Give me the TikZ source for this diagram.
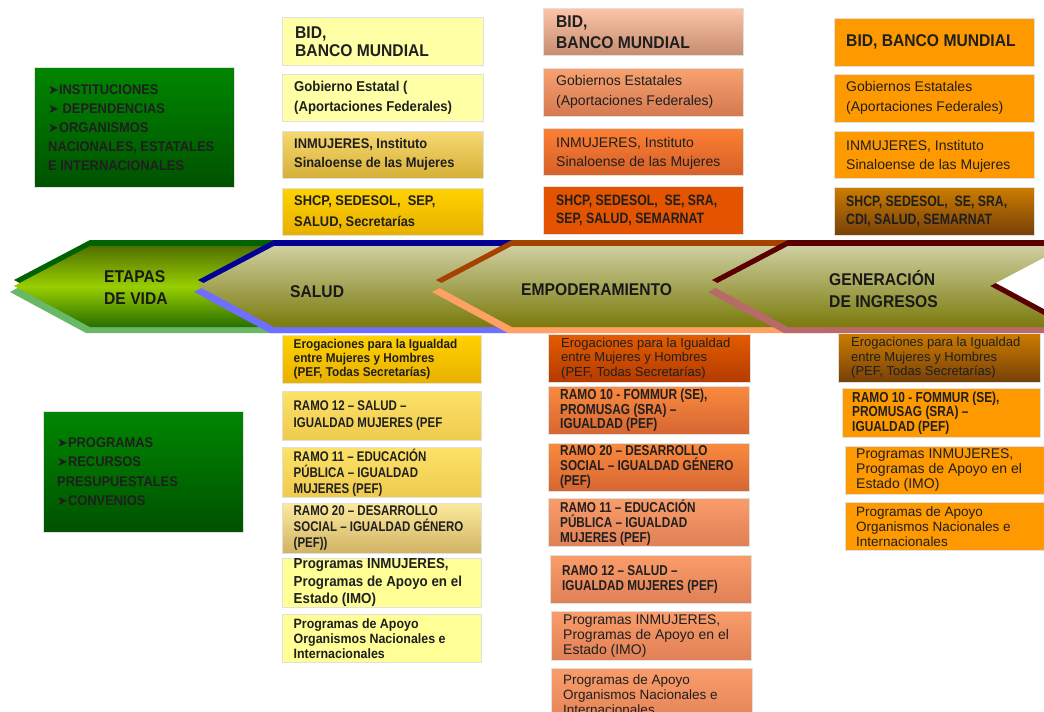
\documentclass[tikz,border=0pt]{standalone}
\usepackage{fontspec}
\setmainfont{Liberation Sans}
\newfontfamily\hdr[FakeStretch=0.92]{Liberation Sans}
\newfontfamily\cnd[FakeStretch=0.82]{Liberation Sans}
\newfontfamily\dvs{DejaVu Sans}
\definecolor{yl}{RGB}{255,255,165}
\definecolor{ylp}{RGB}{255,255,150}
\definecolor{gdt}{RGB}{246,216,112}
\definecolor{gdb}{RGB}{214,176,56}
\definecolor{gyt}{RGB}{255,210,0}
\definecolor{gyb}{RGB}{232,176,0}
\definecolor{rmt}{RGB}{252,226,104}
\definecolor{rmb}{RGB}{238,202,78}
\definecolor{tnt}{RGB}{252,234,156}
\definecolor{tnb}{RGB}{208,178,100}
\definecolor{pkt}{RGB}{252,196,168}
\definecolor{pkb}{RGB}{198,140,112}
\definecolor{o1t}{RGB}{248,162,112}
\definecolor{o1b}{RGB}{212,120,80}
\definecolor{o2t}{RGB}{252,128,52}
\definecolor{o2b}{RGB}{214,96,40}
\definecolor{o3}{RGB}{228,84,0}
\definecolor{o4t}{RGB}{228,92,0}
\definecolor{o4b}{RGB}{180,58,0}
\definecolor{o5t}{RGB}{250,138,62}
\definecolor{o5b}{RGB}{214,102,50}
\definecolor{o6t}{RGB}{250,156,106}
\definecolor{o6b}{RGB}{224,128,86}
\definecolor{orn}{RGB}{255,153,0}
\definecolor{brt}{RGB}{204,124,0}
\definecolor{brb}{RGB}{118,64,8}
\definecolor{grt}{RGB}{0,134,0}
\definecolor{grb}{RGB}{0,82,0}
\definecolor{olt}{RGB}{206,206,160}
\definecolor{olb}{RGB}{122,122,12}
\definecolor{gdk}{RGB}{0,98,0}
\definecolor{glt}{RGB}{104,184,104}
\definecolor{bdk}{RGB}{0,0,150}
\definecolor{blt}{RGB}{110,110,255}
\definecolor{edk}{RGB}{165,66,0}
\definecolor{elt}{RGB}{255,160,100}
\definecolor{rdk}{RGB}{90,0,0}
\definecolor{rlt}{RGB}{185,105,105}
% #1 name, #2 x, #3 y, #4 w, #5 h, #6 fill options, #7 text indent, #8 font, #9 text
\newcommand\txbox[9]{%
  \node[bx, minimum width=#4pt, minimum height=#5pt, #6] (#1) at (#2,#3) {};
  \node[tx, font={#8}] (#1-t) at ([xshift=#7pt]#1.west) {#9};}
\newcommand\arr{{\dvs\mdseries\fontsize{13}{19}\selectfont ➤}}
\begin{document}
\begin{tikzpicture}[x=1pt,y=-1pt,
  bx/.style={anchor=north west, inner sep=0pt, draw=black!12, line width=0.6pt},
  tx/.style={anchor=west, inner sep=0pt, align=left, text=black!88},
  chevtxt/.style={anchor=west, inner sep=0pt, align=left, text=black!90,
    font=\hdr\bfseries\fontsize{17}{22}\selectfont}]
\useasboundingbox (0,0) rectangle (1044,712);
\clip (0,0) rectangle (1044,712);
\fill[white] (0,0) rectangle (1044,712);

% ---------- chevron band ----------
% green
\fill[gdk, shift={(0,-6)}] (14,286) -- (90,246) -- (330,246) -- (330,327) -- (90,327) -- cycle;
\fill[glt, shift={(-4,6)}] (14,286) -- (90,246) -- (330,246) -- (330,327) -- (90,327) -- cycle;
\shade[top color={rgb,255:red,80;green,112;blue,0}, bottom color={rgb,255:red,40;green,110;blue,0}, middle color={rgb,255:red,152;green,206;blue,0}]
  (14,286) -- (90,246) -- (330,246) -- (330,327) -- (90,327) -- cycle;
% salud
\fill[bdk, shift={(0,-6)}] (198,286) -- (274,246) -- (560,246) -- (560,327) -- (274,327) -- cycle;
\fill[blt, shift={(-4,6)}] (198,286) -- (274,246) -- (560,246) -- (560,327) -- (274,327) -- cycle;
\shade[top color=olt, bottom color=olb] (198,286) -- (274,246) -- (560,246) -- (560,327) -- (274,327) -- cycle;
% empoderamiento
\fill[edk, shift={(0,-6)}] (436,286) -- (512,246) -- (830,246) -- (830,327) -- (512,327) -- cycle;
\fill[elt, shift={(-4,6)}] (436,286) -- (512,246) -- (830,246) -- (830,327) -- (512,327) -- cycle;
\shade[top color=olt, bottom color=olb] (436,286) -- (512,246) -- (830,246) -- (830,327) -- (512,327) -- cycle;
% generacion
\fill[rdk, shift={(0,-6)}] (712,286) -- (788,246) -- (1066,246) -- (990,286) -- (1066,327) -- (788,327) -- cycle;
\fill[rlt, shift={(-4,6)}] (712,286) -- (788,246) -- (994,246) -- (994,286) -- (1070,327) -- (788,327) -- cycle;
\shade[top color=olt, bottom color=olb] (712,286) -- (788,246) -- (1066,246) -- (990,286) -- (1066,327) -- (788,327) -- cycle;

\node[chevtxt] (etapas) at (104,288) {ETAPAS\\DE VIDA};
\node[chevtxt] (salud) at (290,292) {SALUD};
\node[chevtxt] (empo) at (521,290) {EMPODERAMIENTO};
\node[chevtxt] (gen) at (829,289) {GENERACIÓN\\DE INGRESOS};

% ---------- green boxes ----------
\txbox{inst}{34}{67}{200}{120}{top color=grt, bottom color=grb}{14}{\hdr\bfseries\fontsize{14}{19}\selectfont\color{black}}
  {\arr INSTITUCIONES\\\arr\ DEPENDENCIAS\\\arr ORGANISMOS\\NACIONALES, ESTATALES\\E INTERNACIONALES}
\txbox{prog}{43}{411}{200}{121}{top color=grt, bottom color=grb}{14}{\hdr\bfseries\fontsize{14}{19.5}\selectfont\color{black}}
  {\arr PROGRAMAS\\\arr RECURSOS\\PRESUPUESTALES\\\arr CONVENIOS}

% ---------- column 1 ----------
\txbox{a1}{282}{17}{201}{48}{fill=yl}{13}{\hdr\bfseries\fontsize{17}{18}\selectfont}{BID,\\BANCO MUNDIAL}
\txbox{a2}{282}{74}{201}{47}{fill=yl}{12}{\hdr\bfseries\fontsize{14.3}{20}\selectfont}{Gobierno Estatal (\\(Aportaciones Federales)}
\txbox{a3}{282}{131}{201}{47}{top color=gdt, bottom color=gdb}{12}{\hdr\bfseries\fontsize{14}{19}\selectfont}{INMUJERES, Instituto\\Sinaloense de las Mujeres}
\txbox{a4}{282}{188}{201}{47}{top color=gyt, bottom color=gyb}{12}{\hdr\bfseries\fontsize{14}{21}\selectfont}{SHCP, SEDESOL,\ \ SEP,\\SALUD, Secretarías}

\txbox{b1}{282}{335}{199}{48}{top color=gyt, bottom color=gyb}{11.5}{\hdr\bfseries\fontsize{12.8}{14}\selectfont}{Erogaciones para la Igualdad\\entre Mujeres y Hombres\\(PEF, Todas Secretarías)}
\txbox{b2}{282}{391}{199}{49}{top color=rmt, bottom color=rmb}{11.5}{\cnd\bfseries\fontsize{14}{17}\selectfont}{RAMO 12 – SALUD –\\IGUALDAD MUJERES (PEF}
\txbox{b3}{282}{447}{199}{50}{top color=rmt, bottom color=rmb}{11.5}{\cnd\bfseries\fontsize{14}{16}\selectfont}{RAMO 11 – EDUCACIÓN\\PÚBLICA – IGUALDAD\\MUJERES (PEF)}
\txbox{b4}{282}{503}{199}{50}{top color=tnt, bottom color=tnb}{11.5}{\cnd\bfseries\fontsize{14}{16}\selectfont}{RAMO 20 – DESARROLLO\\SOCIAL – IGUALDAD GÉNERO\\(PEF))}
\txbox{b5}{282}{558}{199}{49}{fill=ylp}{11.5}{\hdr\bfseries\fontsize{14.5}{17.5}\selectfont}{Programas INMUJERES,\\Programas de Apoyo en el\\Estado (IMO)}
\txbox{b6}{282}{614}{199}{48}{fill=ylp}{11.5}{\hdr\bfseries\fontsize{13.5}{15}\selectfont}{Programas de Apoyo\\Organismos Nacionales e\\Internacionales}

% ---------- column 2 ----------
\txbox{c1}{543}{8}{200}{47}{top color=pkt, bottom color=pkb}{13}{\hdr\bfseries\fontsize{17}{21}\selectfont}{BID,\\BANCO MUNDIAL}
\txbox{c2}{543}{68}{200}{48}{top color=o1t, bottom color=o1b}{13}{\fontsize{14}{20}\selectfont}{Gobiernos Estatales\\(Aportaciones Federales)}
\txbox{c3}{543}{128}{200}{47}{top color=o2t, bottom color=o2b}{13}{\fontsize{14}{19}\selectfont}{\strut INMUJERES, Instituto\\Sinaloense de las Mujeres}
\txbox{c4}{543}{186}{200}{48}{fill=o3}{13}{\cnd\bfseries\fontsize{15}{18}\selectfont}{SHCP, SEDESOL,\ \ SE, SRA,\\SEP, SALUD, SEMARNAT}

\txbox{d1}{548}{334}{202}{48}{top color=o4t, bottom color=o4b}{13}{\fontsize{13}{14.5}\selectfont}{Erogaciones para la Igualdad\\entre Mujeres y Hombres\\(PEF, Todas Secretarías)}
\txbox{d2}{548}{386}{201}{48}{top color=o5t, bottom color=o5b}{12}{\cnd\bfseries\fontsize{14.5}{14.5}\selectfont}{RAMO 10 - FOMMUR (SE),\\PROMUSAG (SRA) –\\IGUALDAD (PEF)}
\txbox{d3}{548}{443}{201}{48}{top color=o5t, bottom color=o5b}{12}{\cnd\bfseries\fontsize{14.3}{15}\selectfont}{RAMO 20 – DESARROLLO\\SOCIAL – IGUALDAD GÉNERO\\(PEF)}
\txbox{d4}{548}{498}{201}{48}{top color=o6t, bottom color=o6b}{12}{\cnd\bfseries\fontsize{14.3}{15}\selectfont}{RAMO 11 – EDUCACIÓN\\PÚBLICA – IGUALDAD\\MUJERES (PEF)}
\txbox{d5}{550}{555}{201}{48}{top color=o6t, bottom color=o6b}{12}{\cnd\bfseries\fontsize{14.3}{15}\selectfont}{RAMO 12 – SALUD –\\IGUALDAD MUJERES (PEF)}
\txbox{d6}{551}{611}{200}{49}{top color=o6t, bottom color=o6b}{12}{\fontsize{14}{15}\selectfont}{Programas INMUJERES,\\Programas de Apoyo en el\\Estado (IMO)}
\node[bx, minimum width=201pt, minimum height=62pt, top color=o6t, bottom color=o6b] (d7) at (551,668) {};
\node[tx, anchor=north west, font=\fontsize{13.5}{15}\selectfont] (d7-t) at ([xshift=12pt,yshift=-7pt]d7.north west) {Programas de Apoyo\\Organismos Nacionales e\\Internacionales};

% ---------- column 3 ----------
\txbox{e1}{834}{18}{200}{48}{fill=orn}{12}{\hdr\bfseries\fontsize{17}{20}\selectfont}{BID, BANCO MUNDIAL}
\txbox{e2}{834}{74}{200}{48}{fill=orn}{12}{\fontsize{14}{20}\selectfont}{Gobiernos Estatales\\(Aportaciones Federales)}
\txbox{e3}{834}{131}{200}{47}{fill=orn}{12}{\fontsize{14}{19}\selectfont}{\strut INMUJERES, Instituto\\Sinaloense de las Mujeres}
\txbox{e4}{834}{187}{200}{48}{top color=brt, bottom color=brb}{12}{\cnd\bfseries\fontsize{15}{18}\selectfont}{SHCP, SEDESOL,\ \ SE, SRA,\\CDI, SALUD, SEMARNAT}

\txbox{f1}{838}{333}{202}{49}{top color=brt, bottom color=brb}{13}{\fontsize{13}{14.5}\selectfont}{Erogaciones para la Igualdad\\entre Mujeres y Hombres\\(PEF, Todas Secretarías)}
\txbox{f2}{842}{388}{198}{49}{fill=orn}{10}{\cnd\bfseries\fontsize{14.5}{14.5}\selectfont}{RAMO 10 - FOMMUR (SE),\\PROMUSAG (SRA) –\\IGUALDAD (PEF)}
\txbox{f3}{845}{446}{199}{48}{fill=orn}{11}{\fontsize{14}{15}\selectfont}{Programas INMUJERES,\\Programas de Apoyo en el\\Estado (IMO)}
\txbox{f4}{845}{502}{199}{48}{fill=orn}{11}{\fontsize{13.5}{15}\selectfont}{Programas de Apoyo\\Organismos Nacionales e\\Internacionales}
\end{tikzpicture}
\end{document}
